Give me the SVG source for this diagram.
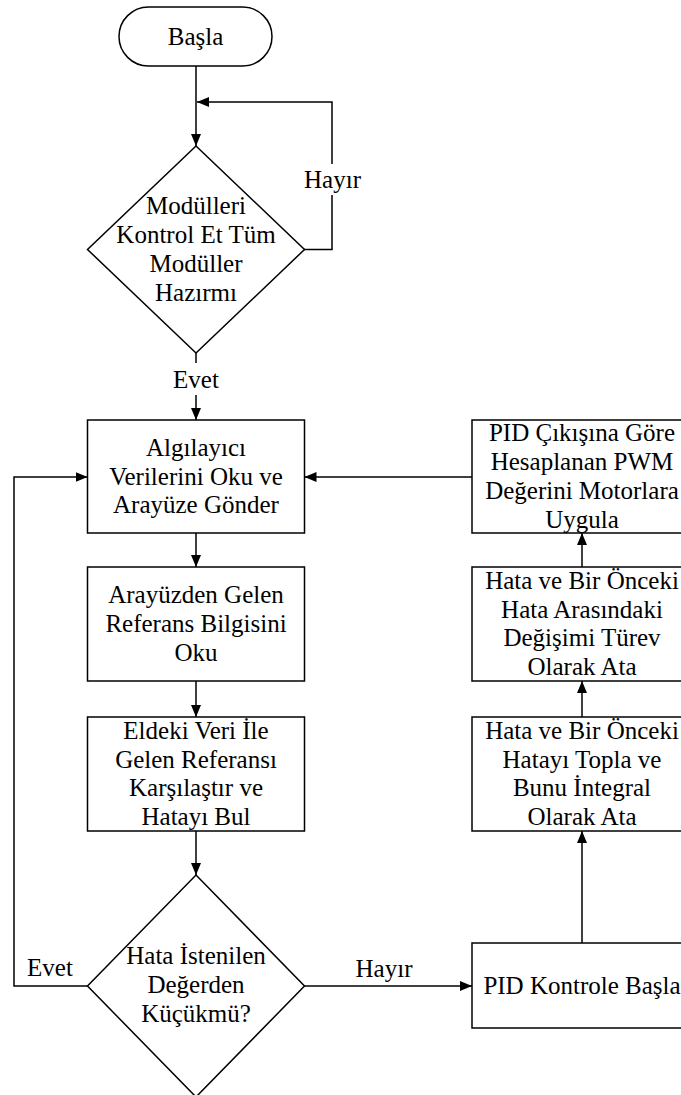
<svg xmlns="http://www.w3.org/2000/svg" width="681" height="1095" viewBox="0 0 681 1095">
<style>
.shape{fill:#fff;stroke:#000;stroke-width:1.5}
.conn{fill:none;stroke:#000;stroke-width:1.5}
text{font-family:"Liberation Serif","Times New Roman",serif;font-size:25px;fill:#000;text-anchor:middle}
.lbl-bg{fill:#fff;stroke:none}
</style>
<defs>
<marker id="arr" viewBox="0 0 12 10" refX="12" refY="5" markerWidth="12" markerHeight="10" markerUnits="userSpaceOnUse" orient="auto">
<path d="M0,0 L12,5 L0,10 Z" fill="#000"/>
</marker>
</defs>
<rect width="681" height="1095" fill="#fff"/>
<g id="connectors">
<path class="conn" d="M196,66 V146" marker-end="url(#arr)"/>
<path class="conn" d="M304,249.5 H332 V102 H197" marker-end="url(#arr)"/>
<path class="conn" d="M196,353 V420" marker-end="url(#arr)"/>
<path class="conn" d="M196,533 V567" marker-end="url(#arr)"/>
<path class="conn" d="M196,681 V717" marker-end="url(#arr)"/>
<path class="conn" d="M196,831 V875" marker-end="url(#arr)"/>
<path class="conn" d="M87.5,986 H14 V477 H87.5" marker-end="url(#arr)"/>
<path class="conn" d="M304.5,986 H472" marker-end="url(#arr)"/>
<path class="conn" d="M582,943 V831" marker-end="url(#arr)"/>
<path class="conn" d="M582,717 V681" marker-end="url(#arr)"/>
<path class="conn" d="M582,567 V533" marker-end="url(#arr)"/>
<path class="conn" d="M472,477 H304.5" marker-end="url(#arr)"/>
<g id="labels">
<rect class="lbl-bg" x="304" y="164" width="57" height="31"/>
<text x="332.5" y="188">Hayır</text>
<rect class="lbl-bg" x="170" y="363" width="52" height="32"/>
<text x="196" y="388">Evet</text>
<text x="50" y="976">Evet</text>
<text x="384" y="977">Hayır</text>
</g>
</g>
<g id="start">
<rect class="shape" x="119" y="7" width="153" height="59" rx="29.5"/>
<text x="195.5" y="45">Başla</text>
</g>
<g id="check-modules">
<polygon class="shape" points="196,146 304.5,249.5 196,353 87.5,249.5"/>
<text x="196" y="214.4">Modülleri</text>
<text x="196" y="243.1">Kontrol Et Tüm</text>
<text x="196" y="271.9">Modüller</text>
<text x="196" y="300.6">Hazırmı</text>
</g>
<g id="read-sensors">
<rect class="shape" x="87.5" y="420" width="217" height="113"/>
<text x="196" y="455.75">Algılayıcı</text>
<text x="196" y="484.5">Verilerini Oku ve</text>
<text x="196" y="513.25">Arayüze Gönder</text>
</g>
<g id="read-reference">
<rect class="shape" x="87.5" y="567" width="217" height="114"/>
<text x="196" y="603.25">Arayüzden Gelen</text>
<text x="196" y="632">Referans Bilgisini</text>
<text x="196" y="660.75">Oku</text>
</g>
<g id="compare">
<rect class="shape" x="87.5" y="717" width="217" height="114"/>
<text x="196" y="738.9">Eldeki Veri İle</text>
<text x="196" y="767.6">Gelen Referansı</text>
<text x="196" y="796.4">Karşılaştır ve</text>
<text x="196" y="825.1">Hatayı Bul</text>
</g>
<g id="error-check">
<polygon class="shape" points="196,875 304.5,986 196,1097 87.5,986"/>
<text x="196" y="964">Hata İstenilen</text>
<text x="196" y="992.75">Değerden</text>
<text x="196" y="1021.5">Küçükmü?</text>
</g>
<g id="pid-start">
<rect class="shape" x="472" y="943" width="220" height="85"/>
<text x="582" y="994">PID Kontrole Başla</text>
</g>
<g id="integral">
<rect class="shape" x="472" y="717" width="220" height="114"/>
<text x="582" y="738.9">Hata ve Bir Önceki</text>
<text x="582" y="767.6">Hatayı Topla ve</text>
<text x="582" y="796.4">Bunu İntegral</text>
<text x="582" y="825.1">Olarak Ata</text>
</g>
<g id="derivative">
<rect class="shape" x="472" y="567" width="220" height="114"/>
<text x="582" y="589">Hata ve Bir Önceki</text>
<text x="582" y="617.7">Hata Arasındaki</text>
<text x="582" y="646.4">Değişimi Türev</text>
<text x="582" y="675.1">Olarak Ata</text>
</g>
<g id="apply-pwm">
<rect class="shape" x="472" y="420" width="220" height="113"/>
<text x="582" y="441.4">PID Çıkışına Göre</text>
<text x="582" y="470.1">Hesaplanan PWM</text>
<text x="582" y="498.9">Değerini Motorlara</text>
<text x="582" y="527.6">Uygula</text>
</g>
</svg>
